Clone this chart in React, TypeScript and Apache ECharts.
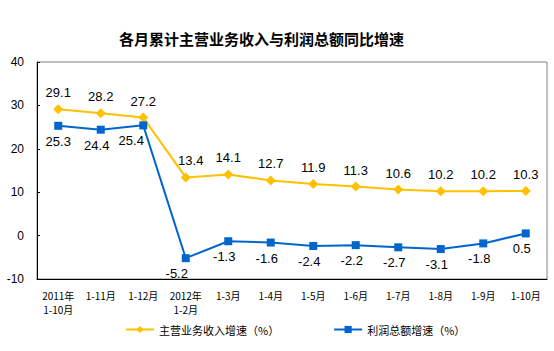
import React, { useEffect, useRef } from "react";
import * as echarts from "echarts";

const categories = [
  "2011年\n1-10月", "1-11月", "1-12月", "2012年\n1-2月", "1-3月", "1-4月",
  "1-5月", "1-6月", "1-7月", "1-8月", "1-9月", "1-10月",
];
const revenueGrowth = [29.1, 28.2, 27.2, 13.4, 14.1, 12.7, 11.9, 11.3, 10.6, 10.2, 10.2, 10.3];
const profitGrowth = [25.3, 24.4, 25.4, -5.2, -1.3, -1.6, -2.4, -2.2, -2.7, -3.1, -1.8, 0.5];
const revenueName = "主营业务收入增速（%）";
const profitName = "利润总额增速（%）";
const titleText = "各月累计主营业务收入与利润总额同比增速";

export default function App() {
  const ref = useRef<HTMLDivElement>(null);
  useEffect(() => {
    if (!ref.current) return;
    const chart = echarts.init(ref.current, null, { renderer: "svg" });
    const font = "Arial, 'Liberation Sans', 'Noto Sans CJK SC', sans-serif";
    const profitData = profitGrowth.map((v, i) => {
      let off = [-4, 0];
      if (i === 0) off = [0, 0];
      if (i === 2) off = [-12, 0];
      if (i === 3) off = [-9, 0];
      return { value: v, label: { offset: off } };
    });
    const revData = revenueGrowth.map((v, i) => {
      let off = [0, 0];
      if (i === 3) off = [5, 0];
      return { value: v, label: { offset: off } };
    });
    chart.setOption({
      animation: false,
      title: {
        text: titleText,
        left: 114,
        top: 26,
        textStyle: { fontSize: 15, fontWeight: "bold", color: "#000", fontFamily: "'Noto Sans CJK SC', sans-serif" },
      },
      grid: {
        left: 37, right: 7, top: 62, bottom: 72,
        show: true, borderColor: "#808080", borderWidth: 1,
      },
      legend: {
        left: 120,
        top: 319,
        itemWidth: 28,
        itemHeight: 9,
        itemGap: 54,
        textStyle: { fontSize: 11, color: "#000", fontFamily: "'Noto Sans CJK SC', sans-serif" },
        data: [revenueName, profitName],
      },
      xAxis: {
        type: "category",
        data: categories,
        boundaryGap: true,
        axisLine: { onZero: false, lineStyle: { color: "#000", width: 1 } },
        axisTick: { inside: true, length: 4, lineStyle: { color: "#000" } },
        axisLabel: {
          interval: 0, fontSize: 10, color: "#000", margin: 9, lineHeight: 14,
          fontFamily: "'Noto Sans CJK SC', sans-serif",
        },
        splitLine: { show: false },
      },
      yAxis: {
        type: "value",
        min: -10, max: 40, interval: 10,
        axisLine: { show: true, lineStyle: { color: "#000", width: 1 } },
        axisTick: { show: true, inside: true, length: 3, lineStyle: { color: "#000" } },
        axisLabel: { fontSize: 12, color: "#000", margin: 13, fontFamily: font },
        splitLine: { show: false },
      },
      series: [
        {
          name: revenueName,
          type: "line",
          data: revData,
          symbol: "diamond",
          symbolSize: 10,
          itemStyle: { color: "#FFC000" },
          lineStyle: { color: "#FFC000", width: 2 },
          label: { show: true, position: "top", fontSize: 13, color: "#000", fontFamily: font },
        },
        {
          name: profitName,
          type: "line",
          data: profitData,
          symbol: "rect",
          symbolSize: 8,
          itemStyle: { color: "#0066CC" },
          lineStyle: { color: "#0066CC", width: 2 },
          label: { show: true, position: "bottom", fontSize: 13, color: "#000", fontFamily: font },
        },
      ],
    });
    return () => chart.dispose();
  }, []);
  return <div ref={ref} style={{ width: 554, height: 351, position: "absolute", left: 0, top: 0 }} />;
}
